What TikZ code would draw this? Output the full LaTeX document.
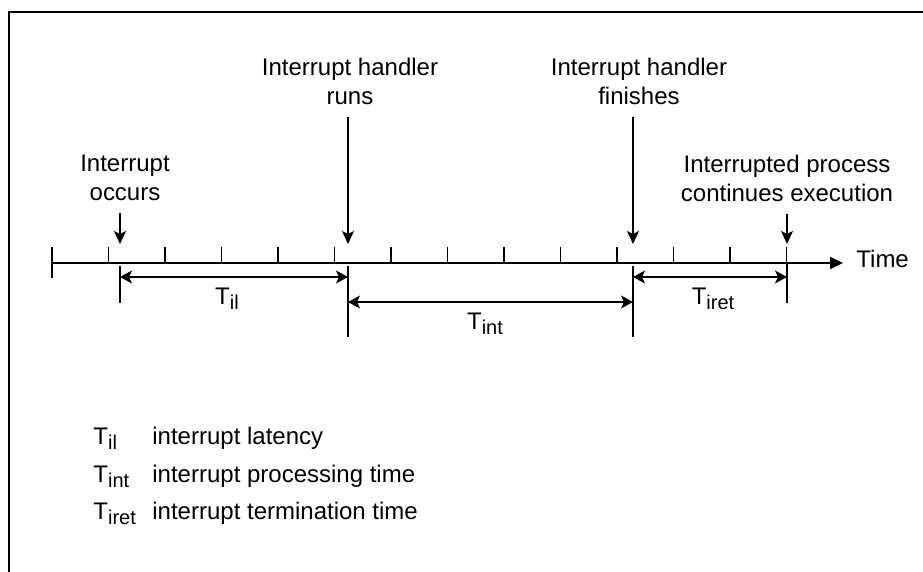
\documentclass[tikz,border=0pt]{standalone}
\usepackage{fontspec}
\setmainfont{Liberation Sans}
\usetikzlibrary{arrows.meta}
\newcommand{\Tsub}[1]{T\raisebox{-2.5pt}{\fontsize{10}{10}\selectfont #1}}

\tikzset{
  lbl/.style={align=center, inner sep=0pt, font=\fontsize{12}{14.5}\selectfont},
  txt/.style={inner sep=0pt, font=\fontsize{12}{14.5}\selectfont},
  pointer/.style={line width=0.8pt, shorten <=6pt, -{Stealth[length=6.5pt,width=6pt,inset=1.5pt]}},
  span/.style={line width=0.8pt, {Stealth[length=6pt,width=6.5pt,inset=1.5pt]}-{Stealth[length=6pt,width=6.5pt,inset=1.5pt]}},
  bar/.style={line width=0.7pt},
  tickmark/.style={line width=0.7pt}
}

\begin{document}
\begin{tikzpicture}[x=0.5pt,y=-0.5pt]
            \useasboundingbox (0,0) rectangle (923,572);
            \draw[line width=1pt] (9,572) -- (9,12) -- (923,12);

            \coordinate (t0) at (52,263);
            \coordinate (tend) at (843,263);
            \draw[line width=1pt,-{Triangle[length=6.5pt,width=6pt]}] (t0) -- (tend);
            \node[txt,anchor=base west] (time) at (856,268) {Time};
            \draw[tickmark] (52,247) -- (52,278);
            \foreach \i in {1,...,13}
                \draw[tickmark] (52+\i*56.5,263) -- (52+\i*56.5,247);

            \coordinate (occ) at (120,244);
            \coordinate (run) at (348,244);
            \coordinate (fin) at (633,244);
            \coordinate (res) at (787,244);

            \node[lbl] (occurs) at (125,178) {Interrupt\\occurs};
            \node[lbl] (runs) at (350,81) {Interrupt handler\\runs};
            \node[lbl] (finishes) at (639,81) {Interrupt handler\\finishes};
            \node[lbl] (resumes) at (787,178) {Interrupted process\\continues execution};

            \draw[pointer] (occurs.south -| occ) -- (occ);
            \draw[pointer] (runs.south -| run) -- (run);
            \draw[pointer] (finishes.south -| fin) -- (fin);
            \draw[pointer] (resumes.south -| res) -- (res);

            \draw[bar] (120,266) -- (120,303);
            \draw[bar] (348,266) -- (348,337);
            \draw[bar] (633,266) -- (633,337);
            \draw[bar] (787,263) -- (787,303);

            \coordinate (il1) at (120,277);
            \coordinate (il2) at (348,277);
            \coordinate (int1) at (348,302);
            \coordinate (int2) at (633,302);
            \coordinate (iret1) at (633,277);
            \coordinate (iret2) at (787,277);

            \path[span] (il1) edge node[txt,midway,below=5pt,xshift=-3.5pt]{\Tsub{il}} (il2);
            \path[span] (int1) edge node[txt,midway,below=5pt,xshift=-2.75pt]{\Tsub{int}} (int2);
            \path[span] (iret1) edge node[txt,midway,below=5pt,xshift=1.5pt]{\Tsub{iret}} (iret2);

            \node[txt,anchor=base west] (kil) at (93,445) {\Tsub{il}};
            \node[txt,anchor=base west] (kint) at (93,483) {\Tsub{int}};
            \node[txt,anchor=base west] (kiret) at (93,520) {\Tsub{iret}};
            \node[txt,anchor=base west] (kildesc) at (152,445) {interrupt latency};
            \node[txt,anchor=base west] (kintdesc) at (152,483) {interrupt processing time};
            \node[txt,anchor=base west] (kiretdesc) at (152,520) {interrupt termination time};
\end{tikzpicture}
\end{document}
